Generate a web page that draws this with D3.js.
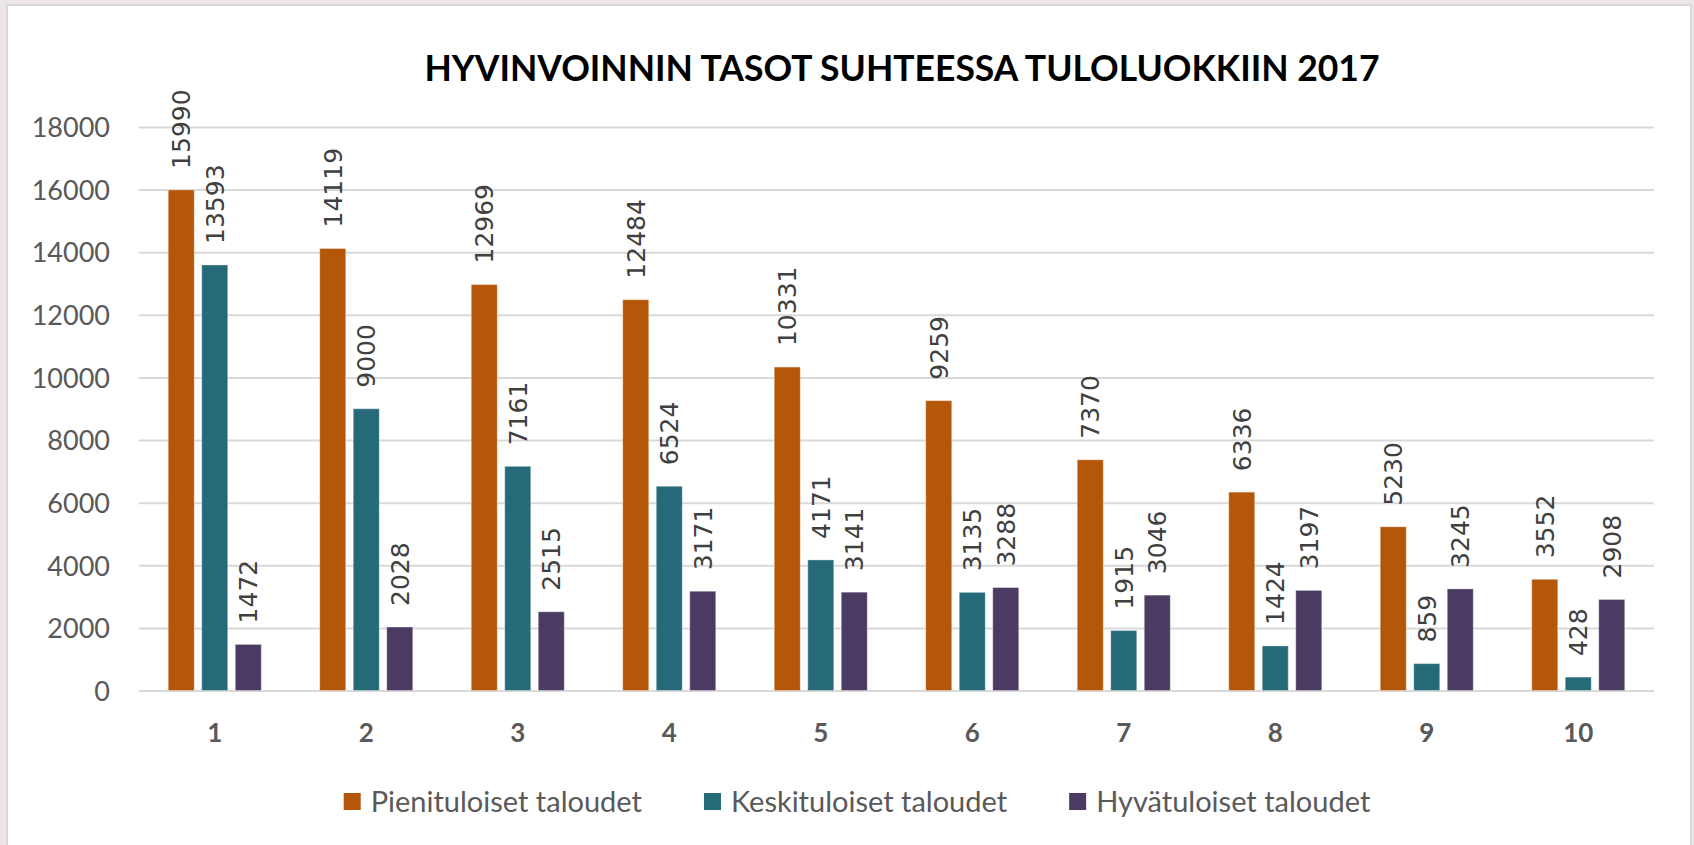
<!DOCTYPE html>
<html>
<head>
<meta charset="utf-8">
<script src="https://cdn.jsdelivr.net/npm/d3@7"></script>
<style>
  html, body { margin: 0; padding: 0; background: #ede6e6; overflow: hidden; }
  svg { display: block; }
</style>
</head>
<body>
<div id="chart"></div>
<script>
// Data
const categories = ["1", "2", "3", "4", "5", "6", "7", "8", "9", "10"]
const seriesNames = ["Pienituloiset taloudet", "Keskituloiset taloudet", "Hyvätuloiset taloudet"]
const pieni = [15990, 14119, 12969, 12484, 10331, 9259, 7370, 6336, 5230, 3552]
const keski = [13593, 9000, 7161, 6524, 4171, 3135, 1915, 1424, 859, 428]
const hyva = [1472, 2028, 2515, 3171, 3141, 3288, 3046, 3197, 3245, 2908]
const yTicks = [0, 2000, 4000, 6000, 8000, 10000, 12000, 14000, 16000, 18000]
const colors = ["#b4570a", "#266a7a", "#4b3a61"]
const title = "HYVINVOINNIN TASOT SUHTEESSA TULOLUOKKIIN 2017"

const W = 1694, H = 845
const margin = {top: 127, right: 40, bottom: 155, left: 139}
const width = 1654 - margin.left
const height = 690.5 - margin.top

const svg = d3.select("#chart")
    .append("svg")
    .attr("width", W)
    .attr("height", H)

// chart frame
svg.append("rect")
    .attr("x", 7).attr("y", 5)
    .attr("width", 1684).attr("height", H)
    .attr("fill", "#ffffff")
    .attr("stroke", "#d9d9d9")
    .attr("stroke-width", 2)

svg.append("text")
    .attr("x", 902)
    .attr("y", 81)
    .attr("text-anchor", "middle")
    .style("font-family", "Lato, 'Open Sans', sans-serif")
    .style("font-weight", "bold")
    .style("font-size", "35.5px")
    .attr("fill", "#000000")
    .text(title)

const g = svg.append("g")
    .attr("transform", `translate(${margin.left},${margin.top})`)

// Scales
const x0 = d3.scaleBand()
    .domain(categories)
    .range([0, width])
    .paddingInner(0.386)
    .paddingOuter(0.193)

const x1 = d3.scaleBand()
    .domain(seriesNames)
    .range([0, x0.bandwidth()])
    .paddingInner(0.224)
    .paddingOuter(0)

const y = d3.scaleLinear()
    .domain([0, 18000])
    .range([height, 0])

// Y axis with gridlines
const yAxis = g.append("g")
    .call(d3.axisLeft(y)
        .tickValues(yTicks)
        .tickFormat(d3.format("d"))
        .tickSizeInner(-width)
        .tickSizeOuter(0)
        .tickPadding(29))
yAxis.select(".domain").remove()
yAxis.selectAll("line")
    .attr("stroke", "#d9d9d9")
    .attr("stroke-width", 2)
yAxis.selectAll("text")
    .style("font-family", "Lato, 'Open Sans', sans-serif")
    .style("font-size", "27px")
    .attr("fill", "#595959")
    .attr("dy", "0.36em")

// X axis
const xAxis = g.append("g")
    .attr("transform", `translate(0,${height})`)
    .call(d3.axisBottom(x0).tickSize(0).tickPadding(0))
xAxis.select(".domain").remove()
xAxis.selectAll("text")
    .style("font-family", "Lato, 'Open Sans', sans-serif")
    .style("font-weight", "bold")
    .style("font-size", "26px")
    .attr("fill", "#595959")
    .attr("y", 51.5)
    .attr("dy", 0)

// Bars
const rows = categories.map((c, i) => ({
    cat: c,
    vals: [pieni[i], keski[i], hyva[i]].map((v, j) => ({key: seriesNames[j], value: v, idx: j}))
}))

const groups = g.selectAll(".group")
    .data(rows)
    .join("g")
    .attr("class", "group")
    .attr("transform", d => `translate(${x0(d.cat)},0)`)

groups.selectAll("rect")
    .data(d => d.vals)
    .join("rect")
    .attr("x", d => x1(d.key))
    .attr("y", d => y(d.value))
    .attr("width", x1.bandwidth())
    .attr("height", d => height - y(d.value))
    .attr("fill", d => colors[d.idx])
    .attr("stroke", "rgba(255,255,255,0.35)")
    .attr("stroke-width", 1)

// Data labels, rotated
groups.selectAll("text.lbl")
    .data(d => d.vals)
    .join("text")
    .attr("class", "lbl")
    .attr("transform", d => `translate(${x1(d.key) + x1.bandwidth() / 2},${y(d.value) - 21}) rotate(-90)`)
    .attr("dy", "0.36em")
    .style("font-family", "'DejaVu Sans', sans-serif")
    .style("font-size", "25px")
    .attr("fill", "#404040")
    .text(d => d.value)

// Legend
const legend = svg.append("g")
const items = legend.selectAll("g")
    .data(seriesNames)
    .join("g")
items.append("rect")
    .attr("width", 17).attr("height", 17)
    .attr("y", 793)
    .attr("fill", (d, i) => colors[i])
items.append("text")
    .attr("y", 812)
    .style("font-family", "Lato, 'Open Sans', sans-serif")
    .style("font-size", "29px")
    .attr("fill", "#595959")
    .text(d => d)

let lx = 0
const offsets = []
items.each(function () {
    const tw = d3.select(this).select("text").node().getComputedTextLength()
    offsets.push(lx)
    lx += 27 + tw + 62
})
const totalW = lx - 62
const startX = 857 - totalW / 2
items.each(function (d, i) {
    const it = d3.select(this)
    it.select("rect").attr("x", startX + offsets[i])
    it.select("text").attr("x", startX + offsets[i] + 27)
})
</script>
</body>
</html>
